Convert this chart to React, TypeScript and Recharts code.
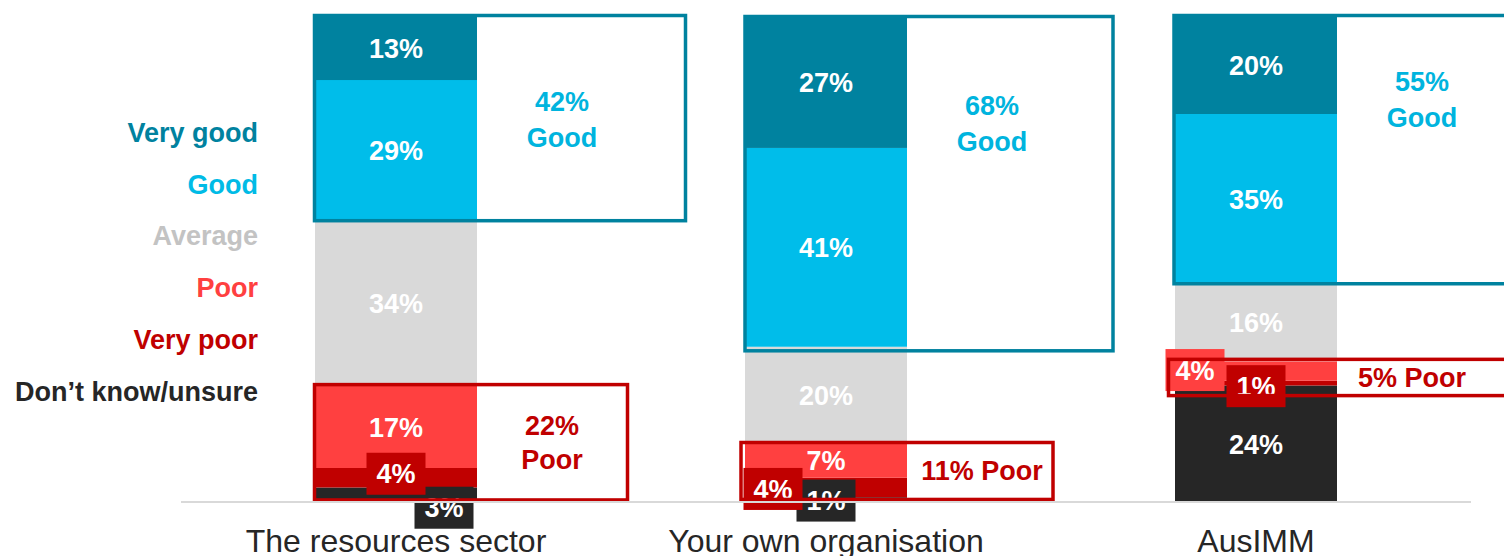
import React from 'react';
import { BarChart, Bar, XAxis, YAxis, Legend } from 'recharts';

const categories = ['The resources sector', 'Your own organisation', 'AusIMM'];
const dontKnow = [3, 1, 24];
const veryPoor = [4, 4, 1];
const poor = [17, 7, 4];
const average = [34, 20, 16];
const good = [29, 41, 35];
const veryGood = [13, 27, 20];
const goodTotals = [42, 68, 55];
const poorTotals = [22, 11, 5];

const FONT = '"Liberation Sans", Arial, Helvetica, sans-serif';

// stack order, bottom first
const SERIES = [
  { key: 'dontKnow', name: 'Don’t know/unsure', color: '#262626', text: '#262626' },
  { key: 'veryPoor', name: 'Very poor', color: '#c00000', text: '#c00000' },
  { key: 'poor', name: 'Poor', color: '#ff4040', text: '#ff4040' },
  { key: 'average', name: 'Average', color: '#d9d9d9', text: '#c3c3c3' },
  { key: 'good', name: 'Good', color: '#00bdea', text: '#00bbe6' },
  { key: 'veryGood', name: 'Very good', color: '#00829f', text: '#00829f' },
];

const data = categories.map((name, i) => ({
  name,
  dontKnow: dontKnow[i],
  veryPoor: veryPoor[i],
  poor: poor[i],
  average: average[i],
  good: good[i],
  veryGood: veryGood[i],
}));

// small segments get a filled tag instead of a plain label (offsets in px)
const BADGES: Record<string, { dx: number; dy: number }>[] = [
  { dontKnow: { dx: 48, dy: 13 }, veryPoor: { dx: 0, dy: -4 } },
  { dontKnow: { dx: 0, dy: 1 }, veryPoor: { dx: -53, dy: 1.5 } },
  { veryPoor: { dx: 0, dy: 3 }, poor: { dx: -61, dy: -1 } },
];
const BADGE_W = 59;
const BADGE_H = 42;

// outline boxes round the good / poor groups
const GOOD_BOX = [
  { l: -0.5, r: 370.5, t: -1.5, b: 0, ty: 105 },
  { l: 0, r: 368, t: -0.5, b: 4, ty: 108 },
  { l: -1, r: 369, t: -1.5, b: 0, ty: 84.5 },
];
const POOR_BOX = [
  { l: -0.5, r: 312.5, t: -1, b: 12.5, wrap: true },
  { l: -4, r: 308, t: -1.3, b: 2.3, wrap: false },
  { l: -6.5, r: 360, t: -2, b: 10, wrap: false },
];

const LABEL_SIZE = 27;

const renderTopSegment = (props: any) => {
  const { x, y, width, height, fill, payload } = props;
  const i = categories.indexOf(payload.name);
  const vals = SERIES.map(s => Number(payload[s.key]));
  const total = vals.reduce((a, b) => a + b, 0);
  const unit = height / vals[vals.length - 1];
  const base = y + unit * total;
  let cum = 0;
  const segs = vals.map(v => {
    const bottom = base - unit * cum;
    cum += v;
    return { top: base - unit * cum, bottom };
  });
  const cx = x + width / 2;
  const badges = BADGES[i] || {};
  const gb = GOOD_BOX[i];
  const pb = POOR_BOX[i];

  const gTop = segs[5].top + gb.t;
  const gBottom = segs[4].bottom + gb.b;
  const gC = gTop + gb.ty;
  const pTop = segs[2].top + pb.t;
  const pBottom = segs[1].bottom + pb.b;
  const pC = (pTop + pBottom) / 2;
  const barRight = x + width;

  const txt = { fontFamily: FONT, fontWeight: 700, fontSize: LABEL_SIZE } as const;

  return (
    <g>
      <rect x={x} y={y} width={width} height={height} fill={fill} />
      {SERIES.map((s, j) =>
        badges[s.key] ? null : (
          <text key={s.key} x={cx} y={(segs[j].top + segs[j].bottom) / 2 + 9.7} textAnchor="middle" fill="#fff" {...txt}>
            {vals[j]}%
          </text>
        )
      )}
      {SERIES.map((s, j) => {
        const b = badges[s.key];
        if (!b) return null;
        const bx = cx + b.dx;
        const by = (segs[j].top + segs[j].bottom) / 2 + b.dy;
        return (
          <g key={'b' + s.key}>
            <rect x={bx - BADGE_W / 2} y={by - BADGE_H / 2} width={BADGE_W} height={BADGE_H} fill={s.color} />
            <text x={bx} y={by + 9.7} textAnchor="middle" fill="#fff" {...txt}>
              {vals[j]}%
            </text>
          </g>
        );
      })}
      <rect x={x + gb.l} y={gTop} width={gb.r - gb.l} height={gBottom - gTop} fill="none" stroke="#00829f" strokeWidth={3.5} />
      <rect x={x + pb.l} y={pTop} width={pb.r - pb.l} height={pBottom - pTop} fill="none" stroke="#c00000" strokeWidth={3.5} />
      <text x={barRight + 85} y={gC - 9.5} textAnchor="middle" fill="#00b4de" {...txt}>
        {goodTotals[i]}%
      </text>
      <text x={barRight + 85} y={gC + 26.5} textAnchor="middle" fill="#00b4de" {...txt}>
        Good
      </text>
      {pb.wrap ? (
        <>
          <text x={barRight + 75} y={pC - 7.25} textAnchor="middle" fill="#c00000" {...txt}>
            {poorTotals[i]}%
          </text>
          <text x={barRight + 75} y={pC + 26.75} textAnchor="middle" fill="#c00000" {...txt}>
            Poor
          </text>
        </>
      ) : (
        <text x={barRight + 75} y={pC + 9.5} textAnchor="middle" fill="#c00000" {...txt}>
          {poorTotals[i]}% Poor
        </text>
      )}
    </g>
  );
};

const CategoryTick = (props: any) => {
  const { x, y, payload } = props;
  return (
    <text x={x} y={y + 50} textAnchor="middle" fontFamily={FONT} fontSize={32} fill="#262626">
      {payload.value}
    </text>
  );
};

const LegendList = () => (
  <div style={{ fontFamily: FONT, fontWeight: 700, fontSize: LABEL_SIZE, textAlign: 'right' }}>
    {[...SERIES].reverse().map(s => (
      <div key={s.key} style={{ color: s.text, lineHeight: '51.7px', whiteSpace: 'nowrap' }}>
        {s.name}
      </div>
    ))}
  </div>
);

export default function App() {
  return (
    <div style={{ position: 'absolute', left: 0, top: 0, width: 1504, height: 556, overflow: 'hidden', background: '#fff' }}>
      <BarChart width={1504} height={556} data={data} margin={{ top: 17, right: 33, bottom: 0, left: 181 }}>
        <XAxis
          dataKey="name"
          height={54}
          tickLine={false}
          tickSize={0}
          tickMargin={0}
          axisLine={{ stroke: '#d9d9d9', strokeWidth: 2 }}
          tick={<CategoryTick />}
          interval={0}
        />
        <YAxis hide domain={[0, 100]} />
        <Legend
          layout="vertical"
          align="center"
          verticalAlign="middle"
          wrapperStyle={{ left: 0, top: 108, width: 258 }}
          content={() => <LegendList />}
        />
        {SERIES.map(s => (
          <Bar
            key={s.key}
            dataKey={s.key}
            name={s.name}
            stackId="a"
            fill={s.color}
            barSize={162}
            isAnimationActive={false}
            shape={s.key === 'veryGood' ? renderTopSegment : undefined}
          />
        ))}
      </BarChart>
    </div>
  );
}
